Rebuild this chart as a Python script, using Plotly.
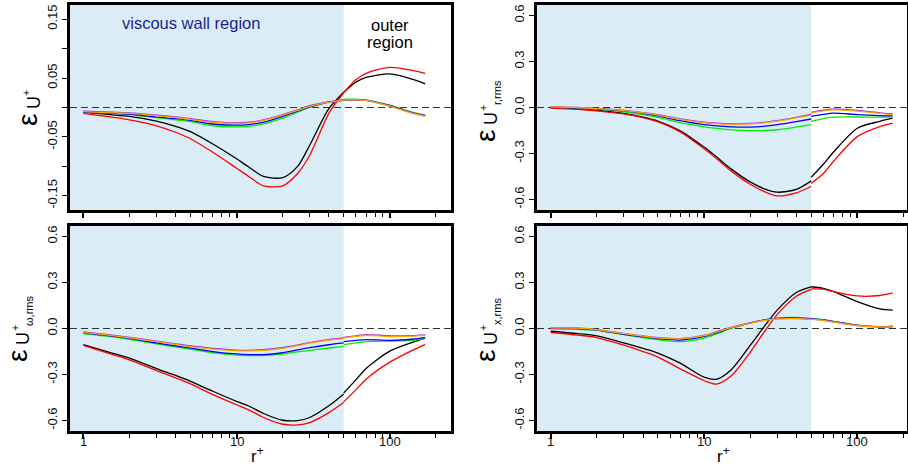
import math
import plotly.graph_objects as go

# ---------------- data ----------------
R_IN = [1, 1.5, 2, 3, 4, 5, 7, 10, 12, 15, 20, 25, 30, 40, 50]
R_OUT = [50, 60, 70, 100, 140, 170]

# panel: eps U+
U_BLACK_IN = [-0.008, -0.012, -0.015, -0.023, -0.032, -0.041, -0.062, -0.087, -0.101, -0.117, -0.119, -0.100, -0.064, -0.002, 0.026]
U_RED_IN = [-0.010, -0.016, -0.021, -0.031, -0.042, -0.053, -0.076, -0.103, -0.117, -0.133, -0.133, -0.112, -0.081, -0.010, 0.025]
U_GREEN_IN = [-0.008, -0.010, -0.012, -0.017, -0.021, -0.024, -0.031, -0.033, -0.032, -0.028, -0.018, -0.008, 0.000, 0.009, 0.013]
U_BLUE_IN = [-0.008, -0.010, -0.011, -0.016, -0.019, -0.022, -0.028, -0.030, -0.029, -0.025, -0.015, -0.006, 0.001, 0.009, 0.012]
U_PURPLE_IN = [-0.006, -0.008, -0.009, -0.013, -0.016, -0.019, -0.024, -0.026, -0.025, -0.021, -0.012, -0.004, 0.003, 0.010, 0.013]
U_ORANGE_IN = [-0.007, -0.009, -0.010, -0.014, -0.017, -0.020, -0.025, -0.027, -0.026, -0.022, -0.013, -0.005, 0.002, 0.009, 0.012]
U_BLACK_OUT = [0.026, 0.043, 0.051, 0.057, 0.048, 0.040]
U_RED_OUT = [0.025, 0.047, 0.058, 0.068, 0.063, 0.058]
U_GREEN_OUT = [0.014, 0.014, 0.013, 0.004, -0.008, -0.013]
U_BLUE_OUT = [0.013, 0.013, 0.012, 0.003, -0.009, -0.014]
U_PURPLE_OUT = [0.013, 0.013, 0.012, 0.003, -0.009, -0.014]
U_ORANGE_OUT = [0.013, 0.013, 0.012, 0.002, -0.010, -0.015]

# panel: eps U+ r,rms
UR_BLACK_IN = [0.000, -0.008, -0.018, -0.038, -0.062, -0.088, -0.152, -0.258, -0.320, -0.400, -0.485, -0.532, -0.552, -0.534, -0.478]
UR_RED_IN = [-0.004, -0.012, -0.022, -0.042, -0.066, -0.093, -0.159, -0.269, -0.330, -0.413, -0.500, -0.550, -0.576, -0.556, -0.515]
UR_GREEN_IN = [0.002, -0.004, -0.010, -0.029, -0.047, -0.064, -0.099, -0.126, -0.136, -0.146, -0.151, -0.150, -0.145, -0.128, -0.112]
UR_BLUE_IN = [0.003, -0.002, -0.008, -0.022, -0.038, -0.055, -0.086, -0.112, -0.120, -0.126, -0.128, -0.122, -0.112, -0.092, -0.075]
UR_PURPLE_IN = [0.004, 0.000, -0.006, -0.019, -0.033, -0.047, -0.074, -0.096, -0.102, -0.106, -0.104, -0.096, -0.085, -0.064, -0.045]
UR_ORANGE_IN = [0.004, 0.000, -0.007, -0.021, -0.035, -0.050, -0.077, -0.099, -0.105, -0.109, -0.107, -0.099, -0.089, -0.068, -0.050]
UR_BLACK_OUT = [-0.455, -0.370, -0.290, -0.135, -0.090, -0.069]
UR_RED_OUT = [-0.495, -0.430, -0.350, -0.190, -0.125, -0.102]
UR_GREEN_OUT = [-0.090, -0.072, -0.063, -0.062, -0.063, -0.063]
UR_BLUE_OUT = [-0.058, -0.045, -0.037, -0.046, -0.053, -0.055]
UR_PURPLE_OUT = [-0.032, -0.018, -0.011, -0.019, -0.035, -0.042]
UR_ORANGE_OUT = [-0.036, -0.022, -0.015, -0.023, -0.038, -0.046]

# panel: eps U+ omega,rms
UW_BLACK_IN = [-0.105, -0.157, -0.193, -0.261, -0.306, -0.344, -0.409, -0.475, -0.505, -0.554, -0.598, -0.600, -0.580, -0.504, -0.427]
UW_RED_IN = [-0.110, -0.165, -0.204, -0.274, -0.322, -0.361, -0.431, -0.497, -0.530, -0.580, -0.624, -0.628, -0.613, -0.548, -0.482]
UW_GREEN_IN = [-0.033, -0.053, -0.070, -0.100, -0.120, -0.136, -0.158, -0.173, -0.177, -0.176, -0.167, -0.152, -0.142, -0.127, -0.116]
UW_BLUE_IN = [-0.028, -0.048, -0.064, -0.094, -0.113, -0.128, -0.150, -0.166, -0.170, -0.170, -0.158, -0.140, -0.125, -0.106, -0.094]
UW_PURPLE_IN = [-0.022, -0.042, -0.058, -0.082, -0.100, -0.114, -0.130, -0.141, -0.142, -0.138, -0.125, -0.108, -0.092, -0.072, -0.062]
UW_ORANGE_IN = [-0.025, -0.045, -0.061, -0.086, -0.104, -0.118, -0.134, -0.145, -0.146, -0.142, -0.129, -0.112, -0.096, -0.076, -0.066]
UW_BLACK_OUT = [-0.420, -0.335, -0.260, -0.147, -0.090, -0.062]
UW_RED_OUT = [-0.478, -0.400, -0.330, -0.219, -0.143, -0.103]
UW_GREEN_OUT = [-0.105, -0.094, -0.085, -0.082, -0.077, -0.066]
UW_BLUE_OUT = [-0.085, -0.077, -0.072, -0.077, -0.070, -0.058]
UW_PURPLE_OUT = [-0.058, -0.048, -0.040, -0.048, -0.046, -0.041]
UW_ORANGE_OUT = [-0.062, -0.052, -0.044, -0.052, -0.050, -0.045]

# panel: eps U+ x,rms
UX_BLACK_IN = [-0.018, -0.033, -0.048, -0.094, -0.130, -0.160, -0.226, -0.317, -0.331, -0.270, -0.110, 0.020, 0.120, 0.235, 0.272]
UX_RED_IN = [-0.026, -0.043, -0.059, -0.109, -0.150, -0.186, -0.263, -0.339, -0.363, -0.310, -0.155, -0.015, 0.090, 0.210, 0.255]
UX_GREEN_IN = [-0.002, -0.006, -0.012, -0.040, -0.060, -0.073, -0.085, -0.062, -0.036, 0.000, 0.035, 0.058, 0.068, 0.072, 0.066]
UX_BLUE_IN = [0.002, 0.000, -0.010, -0.038, -0.055, -0.066, -0.075, -0.052, -0.028, 0.004, 0.037, 0.056, 0.066, 0.068, 0.063]
UX_PURPLE_IN = [0.004, 0.002, -0.007, -0.033, -0.048, -0.059, -0.066, -0.045, -0.022, 0.008, 0.037, 0.055, 0.064, 0.066, 0.061]
UX_ORANGE_IN = [0.004, 0.002, -0.008, -0.034, -0.050, -0.061, -0.068, -0.047, -0.024, 0.006, 0.035, 0.053, 0.062, 0.064, 0.059]
UX_BLACK_OUT = [0.272, 0.262, 0.241, 0.175, 0.128, 0.120]
UX_RED_OUT = [0.258, 0.256, 0.241, 0.212, 0.215, 0.232]
UX_GREEN_OUT = [0.066, 0.058, 0.047, 0.022, 0.012, 0.014]
UX_BLUE_OUT = [0.063, 0.056, 0.045, 0.021, 0.011, 0.013]
UX_PURPLE_OUT = [0.061, 0.054, 0.044, 0.020, 0.011, 0.013]
UX_ORANGE_OUT = [0.059, 0.052, 0.042, 0.018, 0.010, 0.012]

U_TICKS = [-0.15, -0.05, 0.05, 0.15]
U_TICKTEXT = ["-0.15", "-0.05", "0.05", "0.15"]
U_MINOR_TICKS = [-0.10, 0.0, 0.10]
RMS_TICKS = [-0.6, -0.3, 0.0, 0.3, 0.6]
RMS_TICKTEXT = ["-0.6", "-0.3", "0.0", "0.3", "0.6"]
X_MAJOR = [1, 10, 100]
X_MAJOR_TEXT = ["1", "10", "100"]
X_MINOR = [2, 3, 4, 5, 6, 7, 8, 9, 20, 30, 40, 50, 60, 70, 80, 90, 200]
WALL_LIMIT = 50

# ---------------- styling ----------------
W, H = 908, 467
FONT = "Liberation Sans, Arial, Helvetica, sans-serif"
COLORS = {"black": "#000000", "red": "#FF0000", "green": "#00EE00",
          "blue": "#0000FF", "purple": "#A020F0", "orange": "#FFA500"}
ORDER = ["black", "red", "green", "blue", "purple", "orange"]
SHADE = "#DAEDF7"


def pxx(x):
    return x / W


def pyy(y):
    return 1 - y / H


panels = [
    dict(box=(70, 451, 5, 210), xr=(-0.087, 2.399), yr=(-0.174, 0.174),
         yt=U_TICKS, ytt=U_TICKTEXT, ym=U_MINOR_TICKS, xlab=False,
         inner=dict(black=U_BLACK_IN, red=U_RED_IN, green=U_GREEN_IN, blue=U_BLUE_IN, purple=U_PURPLE_IN, orange=U_ORANGE_IN),
         outer=dict(black=U_BLACK_OUT, red=U_RED_OUT, green=U_GREEN_OUT, blue=U_BLUE_OUT, purple=U_PURPLE_OUT, orange=U_ORANGE_OUT)),
    dict(box=(537, 907, 5, 210), xr=(-0.0894, 2.324), yr=(-0.668, 0.668),
         yt=RMS_TICKS, ytt=RMS_TICKTEXT, ym=None, xlab=False,
         inner=dict(black=UR_BLACK_IN, red=UR_RED_IN, green=UR_GREEN_IN, blue=UR_BLUE_IN, purple=UR_PURPLE_IN, orange=UR_ORANGE_IN),
         outer=dict(black=UR_BLACK_OUT, red=UR_RED_OUT, green=UR_GREEN_OUT, blue=UR_BLUE_OUT, purple=UR_PURPLE_OUT, orange=UR_ORANGE_OUT)),
    dict(box=(70, 451, 226, 431), xr=(-0.087, 2.399), yr=(-0.668, 0.668),
         yt=RMS_TICKS, ytt=RMS_TICKTEXT, ym=None, xlab=True,
         inner=dict(black=UW_BLACK_IN, red=UW_RED_IN, green=UW_GREEN_IN, blue=UW_BLUE_IN, purple=UW_PURPLE_IN, orange=UW_ORANGE_IN),
         outer=dict(black=UW_BLACK_OUT, red=UW_RED_OUT, green=UW_GREEN_OUT, blue=UW_BLUE_OUT, purple=UW_PURPLE_OUT, orange=UW_ORANGE_OUT)),
    dict(box=(537, 907, 226, 431), xr=(-0.0894, 2.324), yr=(-0.668, 0.668),
         yt=RMS_TICKS, ytt=RMS_TICKTEXT, ym=None, xlab=True,
         inner=dict(black=UX_BLACK_IN, red=UX_RED_IN, green=UX_GREEN_IN, blue=UX_BLUE_IN, purple=UX_PURPLE_IN, orange=UX_ORANGE_IN),
         outer=dict(black=UX_BLACK_OUT, red=UX_RED_OUT, green=UX_GREEN_OUT, blue=UX_BLUE_OUT, purple=UX_PURPLE_OUT, orange=UX_ORANGE_OUT)),
]

fig = go.Figure()
shapes = []
annotations = []
layout = {}


def ann(text, x, y, size, color="black", angle=0):
    annotations.append(dict(text=text, x=pxx(x), y=pyy(y), xref="paper", yref="paper",
                            showarrow=False, xanchor="center", yanchor="middle",
                            textangle=angle, font=dict(family=FONT, size=size, color=color)))


for i, p in enumerate(panels):
    s = "" if i == 0 else str(i + 1)
    xa, ya = "x" + s, "y" + s
    x0, x1, y0, y1 = p["box"]
    for c in ORDER:
        for seg_x, seg_y in ((R_IN, p["inner"][c]), (R_OUT, p["outer"][c])):
            fig.add_trace(go.Scatter(
                x=seg_x, y=seg_y, mode="lines", xaxis=xa, yaxis=ya,
                line=dict(color=COLORS[c], width=1.3, shape="spline", smoothing=0.8),
                showlegend=False, hoverinfo="skip"))
    layout["xaxis" + s] = dict(
        type="log", range=list(p["xr"]), domain=[pxx(x0), pxx(x1)], anchor=ya,
        automargin=False,
        showline=True, mirror=True, linecolor="black", linewidth=2.5,
        showgrid=False, zeroline=False,
        ticks="outside", ticklen=5, tickwidth=1.8, tickcolor="black",
        tickvals=X_MAJOR, showticklabels=False,
        minor=dict(tickvals=X_MINOR, ticks="outside", ticklen=4, tickwidth=1, tickcolor="black", showgrid=False),
    )
    yax = dict(
        range=list(p["yr"]), domain=[pyy(y1), pyy(y0)], anchor=xa,
        automargin=False,
        showline=True, mirror=True, linecolor="black", linewidth=2.5,
        showgrid=False, zeroline=False,
        ticks="outside", ticklen=5, tickwidth=1.3, tickcolor="black",
        tickvals=p["yt"], ticktext=p["ytt"], tickangle=-90,
        tickfont=dict(family=FONT, size=13, color="#111"),
    )
    if p["ym"]:
        yax["minor"] = dict(tickvals=p["ym"], ticks="outside", ticklen=5, tickwidth=1.3,
                            tickcolor="black", showgrid=False)
    layout["yaxis" + s] = yax
    if p["xlab"]:
        # x tick labels placed at the axis values (log axis annotations use log10)
        for v, t in zip(X_MAJOR, X_MAJOR_TEXT):
            annotations.append(dict(text=t, x=math.log10(v), y=pyy(441), xref=xa, yref="paper",
                                    showarrow=False, xanchor="center", yanchor="middle",
                                    font=dict(family=FONT, size=13, color="#111")))
    wall_frac = (math.log10(WALL_LIMIT) - p["xr"][0]) / (p["xr"][1] - p["xr"][0])
    shapes.append(dict(type="rect", xref=xa + " domain", yref=ya + " domain",
                       x0=0, x1=wall_frac, y0=0, y1=1, fillcolor=SHADE,
                       line=dict(width=0), layer="below"))
    shapes.append(dict(type="line", xref=xa + " domain", yref=ya, x0=0, x1=1, y0=0, y1=0,
                       line=dict(color="#333333", width=1.2, dash="7px,4px"), layer="below"))


# y-axis labels (built from pieces: epsilon, U, superscript +, subscript)
ann("ε", 28, 120, 28, angle=-90)
ann("U", 34, 103, 18, angle=-90)
ann("+", 26, 93, 11, angle=-90)

ann("ε", 485, 136, 28, angle=-90)
ann("U", 491, 119, 18, angle=-90)
ann("+", 483, 108, 11, angle=-90)
ann("r,rms", 497, 93, 11, angle=-90)

ann("ε", 17, 356, 28, angle=-90)
ann("U", 23, 339, 18, angle=-90)
ann("+", 15, 328, 11, angle=-90)
ann("ω,rms", 29, 311, 11, angle=-90)

ann("ε", 485, 356, 28, angle=-90)
ann("U", 491, 339, 18, angle=-90)
ann("+", 483, 328, 11, angle=-90)
ann("x,rms", 497, 312, 11, angle=-90)

# x-axis titles
ann("r<sup>+</sup>", 257, 455, 17)
ann("r<sup>+</sup>", 723, 455, 17)

# region labels
ann("viscous wall region", 191, 23, 16.5, color="#1E1E96")
ann("outer", 390, 25, 16.5)
ann("region", 390, 42, 16.5)

fig.update_layout(
    template="none",
    width=W, height=H, margin=dict(l=0, r=0, t=0, b=0, pad=0),
    paper_bgcolor="white", plot_bgcolor="white",
    shapes=shapes, annotations=annotations, showlegend=False,
    font=dict(family=FONT), **layout,
)

fig.write_html("out.html", config={"displayModeBar": False},
               post_script="document.body.style.margin='0px';")
